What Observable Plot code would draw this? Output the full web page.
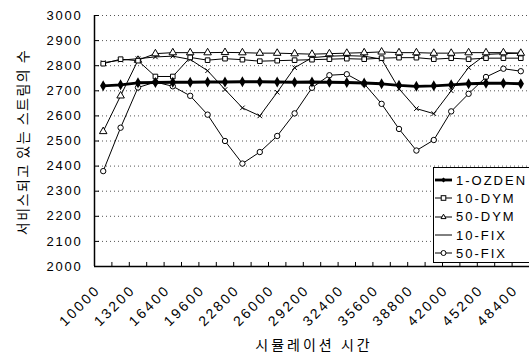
<!DOCTYPE html>
<html><head><meta charset="utf-8">
<script src="https://cdn.jsdelivr.net/npm/d3@7"></script>
<script src="https://cdn.jsdelivr.net/npm/@observablehq/plot@0.6"></script>
<style>
html,body{margin:0;padding:0;background:#fff;overflow:hidden;}
#wrap{position:relative;width:529px;height:354px;}
#legend{position:absolute;left:433px;top:167px;width:110px;height:94px;border:1px solid #000;background:#fff;
  font-family:"Liberation Sans",Arial,sans-serif;font-size:13px;letter-spacing:2px;color:#000;}
.item{position:absolute;left:1px;height:16px;display:flex;align-items:center;white-space:nowrap;}
.item svg{margin-right:3px;}
.title{position:absolute;font-family:"Noto Sans CJK KR",sans-serif;font-size:14px;color:#000;white-space:nowrap;line-height:1;}
#ytitle{left:22px;top:142px;transform:translate(-50%,-50%) rotate(-90deg);letter-spacing:1.5px;}
#xtitle{left:314px;top:343.5px;transform:translate(-50%,-50%);letter-spacing:3px;}
g[aria-label="x-axis tick label"] text{letter-spacing:2.5px;}
g[aria-label="y-axis tick label"] text{letter-spacing:1.8px;}
</style></head><body><div id="wrap"></div>
<script>
// ---- data ----
const categories = [10000, 11600, 13200, 14800, 16400, 18000, 19600, 21200, 22800, 24400, 26000, 27600, 29200,
                    30800, 32400, 34000, 35600, 37200, 38800, 40400, 42000, 43600, 45200, 46800, 48400];
const xTickLabels = [10000, 13200, 16400, 19600, 22800, 26000, 29200, 32400, 35600, 38800, 42000, 45200, 48400];
const yTicks = [2000, 2100, 2200, 2300, 2400, 2500, 2600, 2700, 2800, 2900, 3000];
const seriesNames = ["1-OZDEN", "10-DYM", "50-DYM", "10-FIX", "50-FIX"];
const yTitle = "서비스되고 있는 스트림의 수";
const xTitle = "시뮬레이션 시간";
const ozden1 = [2720, 2724, 2732, 2733, 2734, 2734, 2735, 2735, 2736, 2736, 2735, 2734, 2735, 2734, 2733, 2731, 2728, 2722, 2718, 2720, 2724, 2728, 2730, 2730, 2728];
const dym10  = [2808, 2826, 2820, 2757, 2757, 2833, 2822, 2828, 2824, 2818, 2820, 2822, 2824, 2826, 2828, 2826, 2830, 2832, 2832, 2826, 2830, 2826, 2830, 2830, 2830];
const dym50  = [2538, 2680, 2822, 2848, 2852, 2852, 2852, 2853, 2852, 2850, 2850, 2848, 2846, 2848, 2850, 2852, 2855, 2852, 2852, 2850, 2850, 2852, 2852, 2852, 2850];
const fix10  = [2812, 2822, 2828, 2835, 2838, 2825, 2780, 2705, 2632, 2600, 2694, 2792, 2832, 2838, 2840, 2838, 2826, 2708, 2629, 2609, 2700, 2793, 2845, 2848, 2850];
const fix50  = [2380, 2553, 2713, 2735, 2718, 2680, 2605, 2500, 2410, 2456, 2520, 2610, 2712, 2762, 2766, 2728, 2648, 2548, 2462, 2504, 2618, 2688, 2755, 2788, 2778];

const seriesValues = [ozden1, dym10, dym50, fix10, fix50];
const rows = seriesValues.flatMap((vals, s) => categories.map((c, i) => ({series: seriesNames[s], x: c, y: vals[i]})));
const of = name => rows.filter(d => d.series === name);

const half = 800;                      // half a category step
const xDomain = [categories[0] - half, categories[categories.length - 1] + half];
const boundaries = categories.map(c => c + half);

const thin = {stroke: "black", strokeWidth: 1};
const dotOpts = (sym, r, fill = "white") => ({x: "x", y: "y", symbol: sym, r, stroke: "black", strokeWidth: 1, fill});

const chart = Plot.plot({
  width: 529, height: 354,
  marginLeft: 94, marginRight: 0, marginTop: 15, marginBottom: 88,
  style: {fontFamily: "'Liberation Sans', Arial, sans-serif", color: "black", background: "white"},
  x: {domain: xDomain, label: null},
  y: {domain: [2000, 3000], label: null},
  marks: [
    Plot.ruleY(yTicks.slice(1), {stroke: "#555", strokeWidth: 1, strokeDasharray: "1,3"}),
    Plot.ruleY(yTicks, {x1: xDomain[0], x2: xDomain[0] + 460, stroke: "black", strokeWidth: 1}),
    Plot.ruleX(boundaries, {y1: 2000, y2: 2016, stroke: "black", strokeWidth: 1}),
    Plot.ruleX([xDomain[0]], {y1: 2000, y2: 3000, stroke: "black", strokeWidth: 1.5}),
    Plot.ruleY([2000], {stroke: "black", strokeWidth: 1.6}),
    Plot.axisY({ticks: yTicks, tickSize: 0, tickPadding: 12, fontSize: 13, tickFormat: d => String(d)}),
    Plot.axisX({ticks: xTickLabels, tickSize: 0, tickPadding: 21, dx: -5, tickRotate: -45, fontSize: 14, tickFormat: d => String(d)}),
    Plot.line(of("10-FIX"), {x: "x", y: "y", ...thin}),
    Plot.line(of("50-FIX"), {x: "x", y: "y", ...thin}),
    Plot.line(of("50-DYM"), {x: "x", y: "y", ...thin}),
    Plot.line(of("10-DYM"), {x: "x", y: "y", ...thin}),
    Plot.dot(of("10-FIX"), dotOpts("times", 2.2, "none")),
    Plot.dot(of("50-FIX"), dotOpts("circle", 2.7)),
    Plot.dot(of("50-DYM"), dotOpts("triangle", 2.8)),
    Plot.dot(of("10-DYM"), dotOpts("square", 2.6)),
    Plot.line(of("1-OZDEN"), {x: "x", y: "y", stroke: "black", strokeWidth: 2.8}),
    Plot.dot(of("1-OZDEN"), {x: "x", y: "y", symbol: "diamond", r: 2.4, fill: "black", stroke: "black"})
  ]
});

const wrap = document.getElementById("wrap");
wrap.appendChild(chart);

// axis titles
const yt = document.createElement("div");
yt.className = "title"; yt.id = "ytitle"; yt.textContent = yTitle;
const xt = document.createElement("div");
xt.className = "title"; xt.id = "xtitle"; xt.textContent = xTitle;
wrap.appendChild(yt); wrap.appendChild(xt);

// legend overlay
const legend = document.createElement("div");
legend.id = "legend";
const legendTops = [4, 22, 40.5, 59, 77];
const swatch = {
  "1-OZDEN": `<line x1="0" y1="6" x2="17" y2="6" stroke="black" stroke-width="2.8"/><path d="M8.5,3.4L11.1,6L8.5,8.6L5.9,6Z" fill="black"/>`,
  "10-DYM": `<line x1="0" y1="6" x2="17" y2="6" stroke="black"/><rect x="6.2" y="3.7" width="4.6" height="4.6" fill="white" stroke="black"/>`,
  "50-DYM": `<line x1="0" y1="6" x2="17" y2="6" stroke="black"/><path d="M8.5,3.2L11,7.6L6,7.6Z" fill="white" stroke="black"/>`,
  "10-FIX": `<line x1="0" y1="6" x2="17" y2="6" stroke="black"/>`,
  "50-FIX": `<line x1="0" y1="6" x2="17" y2="6" stroke="black"/><circle cx="8.5" cy="6" r="2.5" fill="white" stroke="black"/>`
};
seriesNames.forEach((name, i) => {
  const it = document.createElement("div");
  it.className = "item";
  it.style.top = legendTops[i] + "px";
  it.innerHTML = `<svg width="18" height="12">${swatch[name]}</svg><span>${name}</span>`;
  legend.appendChild(it);
});
wrap.appendChild(legend);
</script></body></html>
